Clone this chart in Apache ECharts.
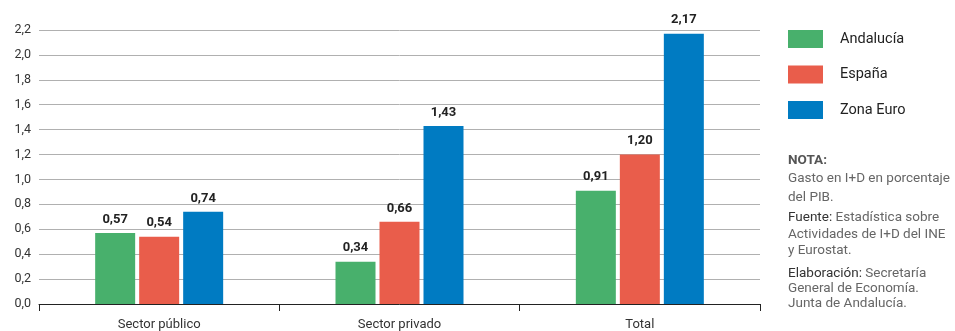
<!DOCTYPE html>
<html>
<head>
<meta charset="utf-8">
<script src="https://cdn.jsdelivr.net/npm/echarts@6/dist/echarts.min.js"></script>
<style>
  html, body { margin: 0; padding: 0; background: #fff; }
  #chart { width: 955px; height: 331px; }
</style>
</head>
<body>
<div id="chart"></div>
<script>
  const categories = ['Sector público', 'Sector privado', 'Total']
  const andalucia = [0.57, 0.34, 0.91]
  const espana = [0.54, 0.66, 1.20]
  const zonaEuro = [0.74, 1.43, 2.17]
  const seriesNames = ['Andalucía', 'España', 'Zona Euro']
  const colors = ['#48b06c', '#e95d4b', '#007bc2']
  const noteLines = [
    ['{b|NOTA:}', 162],
    ['Gasto en I+D en porcentaje', 180],
    ['del PIB.', 199],
    ['{d|Fuente:} Estadística sobre', 219],
    ['Actividades de I+D del INE', 236],
    ['y Eurostat.', 252],
    ['{d|Elaboración:} Secretaría', 275],
    ['General de Economía.', 290],
    ['Junta de Andalucía.', 305]
  ]

  const FONT = 'Roboto'
  const fmt = (v, d) => v.toFixed(d).replace('.', ',')

  const chart = echarts.init(document.getElementById('chart'))

  function makeSeries(name, data, color) {
    return {
      name: name,
      type: 'bar',
      data: data,
      barWidth: 40,
      barGap: '10%',
      itemStyle: { color: color },
      label: {
        show: true,
        position: 'top',
        distance: 7,
        fontFamily: FONT,
        fontSize: 13,
        fontWeight: 'bold',
        color: '#222',
        formatter: p => fmt(p.value, 2)
      }
    }
  }

  chart.setOption({
    animation: false,
    color: colors,
    grid: { left: 39, right: 195, top: 30, bottom: 26, containLabel: false },
    legend: {
      orient: 'vertical',
      left: 783,
      top: 25,
      itemWidth: 35,
      itemHeight: 18,
      itemGap: 17.5,
      icon: 'rect',
      data: seriesNames,
      textStyle: { fontFamily: FONT, fontSize: 14.5, color: '#222', padding: [0, 0, 0, 12] }
    },
    xAxis: {
      type: 'category',
      data: categories,
      axisLine: { lineStyle: { color: '#222', width: 1 } },
      axisTick: { show: true, length: 7, lineStyle: { color: '#222' } },
      axisLabel: { fontFamily: FONT, fontSize: 13, color: '#333', margin: 14 }
    },
    yAxis: {
      type: 'value',
      min: 0,
      max: 2.2,
      interval: 0.2,
      axisLine: { show: false },
      axisTick: { show: false },
      splitLine: { lineStyle: { color: '#b0b0b0', width: 1 } },
      axisLabel: { fontFamily: FONT, fontSize: 12.5, color: '#333', margin: 8, formatter: v => fmt(v, 1) }
    },
    graphic: noteLines.map(([t, y]) => ({
      type: 'text',
      left: 788,
      top: y - 8,
      style: {
        text: t,
        fontFamily: FONT,
        fontSize: 13.5,
        fill: '#666',
        rich: {
          b: { fontFamily: FONT, fontSize: 13.5, fontWeight: 'bold', fill: '#555', color: '#555' },
          d: { fontFamily: FONT, fontSize: 13.5, fill: '#333', color: '#333' }
        }
      }
    })),
    series: [
      makeSeries(seriesNames[0], andalucia, colors[0]),
      makeSeries(seriesNames[1], espana, colors[1]),
      makeSeries(seriesNames[2], zonaEuro, colors[2])
    ]
  })
</script>
</body>
</html>
